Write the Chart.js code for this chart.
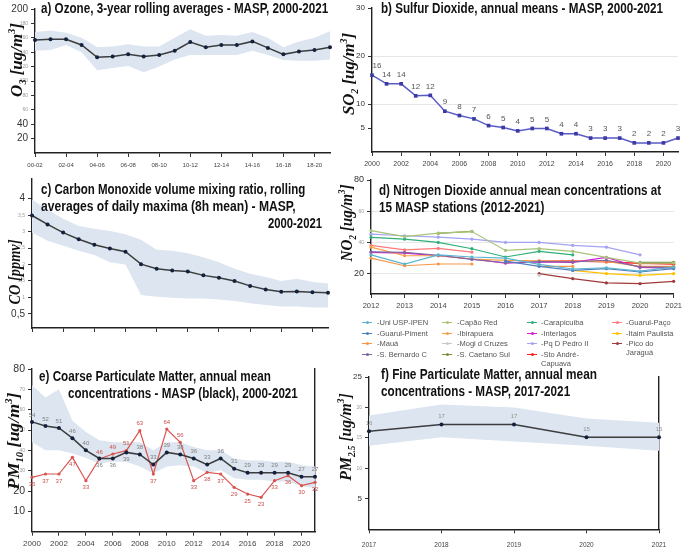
<!DOCTYPE html>
<html>
<head>
<meta charset="utf-8">
<script src="https://cdn.jsdelivr.net/npm/chart.js@4.4.1/dist/chart.umd.min.js"></script>
<style>
  html, body { margin: 0; padding: 0; background: #fff; }
  #page { position: relative; width: 685px; height: 548px; overflow: hidden; background: #fff; font-family: 'Liberation Sans', Arial, sans-serif; }
  #page canvas { position: absolute; }
  .ttl { position: absolute; font-weight: bold; font-size: 14px; line-height: 16px; white-space: nowrap; color: #111; transform-origin: 0 50%; z-index: 5; }
  .ax { position: absolute; font-family: 'Liberation Serif', serif; font-style: italic; font-weight: bold; font-size: 17px; line-height: 20px; white-space: nowrap; color: #111; z-index: 5; }
  .ax sub, .ax sup { font-size: 10px; line-height: 0; }
  .lg { position: absolute; font-size: 7.5px; color: #555; line-height: 9px; z-index: 5; }
  .lg .mk { position: absolute; left: 0; top: 4px; width: 10px; height: 1px; }
  .lg .dt { position: absolute; left: 3.5px; top: 2.5px; width: 3px; height: 3px; border-radius: 50%; }
  .lg .tx { position: absolute; top: 0; }
</style>
</head>
<body>
<div id="page">
  <canvas id="cA" width="340" height="175" style="left:0;top:0"></canvas>
  <canvas id="cB" width="345" height="175" style="left:340px;top:0"></canvas>
  <canvas id="cC" width="340" height="175" style="left:0;top:170px"></canvas>
  <canvas id="cD" width="345" height="140" style="left:340px;top:170px"></canvas>
  <canvas id="cE" width="340" height="203" style="left:0;top:345px"></canvas>
  <canvas id="cF" width="345" height="203" style="left:340px;top:345px"></canvas>

  <div class="ttl" data-w="287" style="left:41px;top:0px">a) Ozone, 3-year rolling averages - MASP, 2000-2021</div>
  <div class="ttl" data-w="282" style="left:381px;top:0px">b) Sulfur Dioxide, annual means - MASP, 2000-2021</div>
  <div class="ttl" data-w="264" style="left:41px;top:181px">c) Carbon Monoxide volume mixing ratio, rolling</div>
  <div class="ttl" data-w="255" style="left:41px;top:198px">averages of daily maxima (8h mean) - MASP,</div>
  <div class="ttl" data-w="54" style="left:268px;top:215px">2000-2021</div>
  <div class="ttl" data-w="282" style="left:379px;top:182px">d) Nitrogen Dioxide annual mean concentrations at</div>
  <div class="ttl" data-w="165" style="left:379px;top:199px">15 MASP stations (2012-2021)</div>
  <div class="ttl" data-w="232" style="left:39px;top:368px">e) Coarse Particulate Matter, annual mean</div>
  <div class="ttl" data-w="230" style="left:68px;top:385px">concentrations - MASP (black), 2000-2021</div>
  <div class="ttl" data-w="216" style="left:381px;top:366px">f) Fine Particulate Matter, annual mean</div>
  <div class="ttl" data-w="189" style="left:381px;top:383px">concentrations - MASP, 2017-2021</div>

  <div class="ax" data-w="74" style="left:17px;top:60px">O<sub>3</sub> [ug/m<sup>3</sup>]</div>
  <div class="ax" data-w="82" style="left:349px;top:74px">SO<sub>2</sub> [ug/m<sup>3</sup>]</div>
  <div class="ax" data-w="65" style="left:15px;top:272px">CO [ppmv]</div>
  <div class="ax" data-w="77" style="left:347px;top:223px">NO<sub>2</sub> [ug/m<sup>3</sup>]</div>
  <div class="ax" data-w="97" style="left:14px;top:441px">PM<sub>10</sub> [ug/m<sup>3</sup>]</div>
  <div class="ax" data-w="87" style="left:346px;top:437px">PM<sub>2.5</sub> [ug/m<sup>3</sup>]</div>
</div>
<script>
// ---- data ----
var rollingPeriods = ['00-02', '01-03', '02-04', '03-05', '04-06', '05-07', '06-08', '07-09', '08-10', '09-11',
                      '10-12', '11-13', '12-14', '13-15', '14-16', '15-17', '16-18', '17-19', '18-20', '19-21'];

var ozoneMean  = [157, 158, 158, 150, 133, 134, 137, 134, 136, 142, 154, 147, 150, 150, 155, 146, 137, 141, 143, 147];
var ozoneUpper = [168, 170, 167, 160, 147, 148, 151, 148, 148, 160, 172, 163, 164, 163, 168, 160, 147, 155, 160, 169];
var ozoneLower = [142, 143, 150, 140, 115, 118, 121, 112, 120, 130, 136, 136, 136, 136, 142, 136, 129, 128, 128, 130];

var years2000 = ['2000', '2001', '2002', '2003', '2004', '2005', '2006', '2007', '2008', '2009', '2010',
                 '2011', '2012', '2013', '2014', '2015', '2016', '2017', '2018', '2019', '2020', '2021'];

var so2Means  = [16, 14.2, 14.2, 11.7, 11.8, 8.5, 7.6, 6.9, 5.5, 5.1, 4.4, 4.9, 4.9, 3.8, 3.8, 2.9, 2.9, 2.9, 1.9, 1.9, 1.9, 2.9];
var so2Labels = ['16', '14', '14', '12', '12', '9', '8', '7', '6', '5', '4', '5', '5', '4', '4', '3', '3', '3', '2', '2', '2', '3'];

var coMean  = [3.49, 3.22, 2.97, 2.77, 2.60, 2.49, 2.39, 2.01, 1.87, 1.82, 1.79, 1.67, 1.60, 1.50, 1.35, 1.24, 1.17, 1.18, 1.16, 1.14];
var coUpper = [3.97, 3.67, 3.39, 3.17, 3.09, 3.02, 2.92, 2.75, 2.45, 2.42, 2.34, 2.22, 2.07, 1.87, 1.72, 1.62, 1.50, 1.57, 1.47, 1.42];
var coLower = [2.97, 2.72, 2.57, 2.42, 2.29, 2.07, 2.00, 1.07, 1.02, 0.99, 0.97, 0.97, 0.94, 0.89, 0.82, 0.77, 0.72, 0.72, 0.69, 0.69];

var years2012 = ['2012', '2013', '2014', '2015', '2016', '2017', '2018', '2019', '2020', '2021'];
var stationNames = ['-Uni USP-IPEN', '-Guarul-Piment', '-Mauá', '-S. Bernardo C',
                    '-Capão Red', '-Ibirapuera', '-Mogi d Cruzes', '-S. Caetano Sul',
                    '-Carapicuiba', '-Interlagos', '-Pq D Pedro II', '-Sto André-Capuava',
                    '-Guarul-Paço', '-Itaim Paulista', '-Pico do Jaraguá'];
var stationColors = ['#5ab4cf', '#4f7fc0', '#f79646', '#8064a2',
                     '#a8c47a', '#f7a043', '#c8c8c8', '#77933c',
                     '#2fb07a', '#d21fd2', '#a3a3f2', '#ff1f1f',
                     '#ff7a7a', '#ffc000', '#a33a3a'];
var no2UniUsp     = [32.1, 26.2, 32.1, 30.7, 30.0, 26.0, 23.0, 23.8, 21.7, 24.2];
var no2GuarulPim  = [null, null, null, null, 28.0, 24.7, 22.1, 23.2, 21.1, 23.2];
var no2Maua       = [30.0, 25.1, 26.2, 26.2, null, 24.7, 24.7, null, null, null];
var no2SBernardo  = [34.0, 33.6, 31.8, 29.2, 27.0, 27.8, 27.6, 28.6, 24.4, 24.0];
var no2CapaoRed   = [47.6, 43.8, 46.0, 47.0, 34.9, 36.0, 34.3, 30.4, 26.8, 26.8];
var no2Ibirapuera = [37.0, 31.5, 31.5, 29.4, 28.5, 28.3, 27.9, 27.9, 24.7, 24.7];
var no2Mogi       = [null, null, null, null, null, 19.0, null, null, null, null];
var no2SCaetano   = [null, null, 45.8, 47.1, null, null, null, null, 27.2, 27.3];
var no2Carapic    = [43.2, 42.1, 40.0, 36.0, 30.7, 34.3, 32.1, null, null, null];
var no2Interlagos = [33.6, 33.2, 31.5, 29.4, 26.8, 27.5, 27.3, 30.4, 24.0, 23.6];
var no2PqDPedro   = [45.3, 44.3, 43.4, 42.1, 40.0, 40.0, 38.1, 37.0, 32.1, null];
var no2StoAndre   = [null, null, null, null, null, 27.8, 28.0, 27.5, 26.8, 26.1];
var no2GuarulPaco = [38.1, 35.3, 36.2, 33.8, null, 28.2, 28.2, 27.8, 26.5, 26.5];
var no2Itaim      = [null, null, null, null, null, null, 22.1, 20.0, 18.9, 20.0];
var no2Pico       = [null, null, null, null, null, 20.0, 16.8, 14.1, 13.6, 15.1];
var no2Series = [no2UniUsp, no2GuarulPim, no2Maua, no2SBernardo, no2CapaoRed, no2Ibirapuera, no2Mogi, no2SCaetano,
                 no2Carapic, no2Interlagos, no2PqDPedro, no2StoAndre, no2GuarulPaco, no2Itaim, no2Pico];

var pm10Masp  = [54, 52, 51, 46, 40, 36, 36, 39, 38, 33, 39, 38, 36, 33, 36, 31, 29, 29, 29, 29, 27, 27];
var pm10Red   = [35, 37, 37, 47, 33, 46, 49, 51, 63, 37, 64, 56, 33, 38, 37, 29, 25, 23, 33, 36, 30, 32];
var pm10Upper = [72, 66, 70, 54.5, 49, 45, 44, 44, 44, 40, 44, 44, 41.6, 40, 40, 36, 35, 35, 34.4, 34.4, 32.7, 32];
var pm10Lower = [44, 40, 40, 38.4, 36.3, 33.5, 34.4, 34.4, 32, 28.7, 32, 32.7, 32, 28.7, 30.3, 26.3, 25.5, 25.5, 24.7, 24.7, 22.3, 21.5];

var years2017  = ['2017', '2018', '2019', '2020', '2021'];
var pm25Mean   = [16.1, 17.2, 17.2, 15.1, 15.1];
var pm25Labels = ['16', '17', '17', '15', '15'];
var pm25Upper  = [18.7, 20.5, 20.0, 18.2, 17.5];
var pm25Lower  = [13.7, 15.1, 14.4, 13.7, 12.9];

var ozoneTicks = [20, 40, 60, 80, 100, 120, 140, 160, 180, 200];
var so2Ticks   = [5, 10, 20, 30];
var coTicks    = [0.5, 1, 1.5, 2, 2.5, 3, 3.5, 4];
var no2Ticks   = [20, 40, 60, 80];
var pm10Ticks  = [10, 20, 30, 40, 50, 60, 70, 80];
var pm25Ticks  = [5, 10, 15, 20, 25];

// ---- helpers ----
Chart.defaults.font.family = "'Liberation Sans', Arial, sans-serif";
var BAND = '#dce5f0';
var LINE = '#3d3d3d';
var DOT = '#14213d';

// draws the little number labels next to points
var valueLabels = {
    id: 'valueLabels',
    afterDatasetsDraw: function (chart) {
        var ctx = chart.ctx;
        chart.data.datasets.forEach(function (ds, i) {
            if (!ds.valueLabels) {
                return;
            }
            var meta = chart.getDatasetMeta(i);
            ctx.save();
            ctx.font = ds.labelFont;
            ctx.fillStyle = ds.labelColor;
            ctx.textAlign = 'center';
            meta.data.forEach(function (pt, j) {
                var above = ds.labelsAbove ? ds.labelsAbove.indexOf(j) >= 0 : true;
                var dx = j === 0 && ds.nudgeFirst ? ds.nudgeFirst : 0;
                ctx.textBaseline = above ? 'bottom' : 'top';
                ctx.fillText(ds.valueLabels[j], pt.x + dx, pt.y + (above ? -ds.labelGap : ds.labelGap));
            });
            ctx.restore();
        });
    }
};

function fixWidth(w) {
    return function (scale) { scale.width = w; };
}

function fixHeight(h) {
    return function (scale) { scale.height = h; };
}

function tickValue(c) {
    return c && c.tick ? c.tick.value : null;
}

function yAxis(min, max, width, values, big, bigSize, gridAt, fmt) {
    return {
        min: min,
        max: max,
        afterFit: fixWidth(width),
        afterBuildTicks: function (scale) {
            scale.ticks = values.map(function (v) { return {value: v}; });
        },
        border: {color: '#222', width: 1.4},
        grid: {
            drawOnChartArea: !!gridAt,
            color: function (c) {
                return gridAt && gridAt.indexOf(tickValue(c)) >= 0 ? '#e6e6e6' : 'rgba(0,0,0,0)';
            },
            tickColor: '#333',
            tickLength: 4
        },
        ticks: {
            padding: 3,
            font: function (c) {
                return {size: big.indexOf(tickValue(c)) >= 0 ? bigSize : 5};
            },
            color: function (c) {
                return big.indexOf(tickValue(c)) >= 0 ? '#333' : '#999';
            },
            callback: fmt || function (v) { return v; }
        }
    };
}

function xAxis(height, every, size, showLabels, pad) {
    return {
        type: 'category',
        offset: false,
        afterFit: fixHeight(height),
        border: {color: '#222', width: 1.4},
        grid: {
            drawOnChartArea: false,
            tickLength: 4,
            tickColor: function (c) { return (c.index || 0) % every === 0 ? '#333' : 'rgba(0,0,0,0)'; }
        },
        ticks: {
            autoSkip: false,
            maxRotation: 0,
            padding: pad || 2,
            font: {size: size},
            color: '#444',
            callback: function (v, i) {
                return showLabels && i % every === 0 ? this.getLabelForValue(v) : '';
            }
        }
    };
}

function rightEdge(min, max) {
    return {
        position: 'right',
        min: min,
        max: max,
        afterFit: fixWidth(0),
        border: {color: '#222', width: 1.4},
        grid: {display: false, drawTicks: false},
        ticks: {display: false}
    };
}

function bandSets(upper, lower) {
    return [
        {data: upper, fill: '+1', backgroundColor: BAND, borderWidth: 0, pointRadius: 0, order: 5},
        {data: lower, fill: false, borderWidth: 0, pointRadius: 0, order: 6}
    ];
}

function meanSet(values) {
    return {data: values, borderColor: LINE, borderWidth: 1.5, pointRadius: 2,
            pointBackgroundColor: DOT, pointBorderWidth: 0, order: 0};
}

function draw(id, labels, datasets, scales, padding) {
    return new Chart(document.getElementById(id), {
        type: 'line',
        data: {labels: labels, datasets: datasets},
        options: {
            responsive: false,
            animation: false,
            devicePixelRatio: 1,
            layout: {padding: padding},
            plugins: {legend: {display: false}, tooltip: {enabled: false}},
            elements: {line: {tension: 0}},
            scales: scales
        },
        plugins: [valueLabels]
    });
}

// squeeze titles to the widths they have in the figure
Array.prototype.forEach.call(document.querySelectorAll('.ttl'), function (el) {
    var s = parseFloat(el.getAttribute('data-w')) / el.offsetWidth;
    el.style.transform = 'scaleX(' + s + ')';
});
Array.prototype.forEach.call(document.querySelectorAll('.ax'), function (el) {
    var s = parseFloat(el.getAttribute('data-w')) / el.offsetWidth;
    el.style.transform = 'translate(-50%,-50%) rotate(-90deg) scaleX(' + s + ')';
});

// ---- a) ozone ----
draw('cA', rollingPeriods, bandSets(ozoneUpper, ozoneLower).concat([meanSet(ozoneMean)]), {
    x: xAxis(22, 2, 6, true, 5),
    y: yAxis(0, 200, 35, ozoneTicks, [200, 40, 20], 10)
}, {top: 5, right: 10, left: 0, bottom: 0});

// ---- b) sulfur dioxide ----
draw('cB', years2000, [{
    data: so2Means, borderColor: '#5a5ac8', borderWidth: 1.5, pointStyle: 'rect', pointRadius: 2.6,
    pointBackgroundColor: '#3b3ba6', pointBorderWidth: 0,
    valueLabels: so2Labels, labelFont: '8px "Liberation Sans"', labelColor: '#555', labelGap: 5, nudgeFirst: 5
}], {
    x: xAxis(23, 2, 7, true, 4),
    y: yAxis(0, 30, 32, so2Ticks, so2Ticks, 8, [10, 20])
}, {top: 8, right: 7, left: 0, bottom: 0});

// ---- c) carbon monoxide ----
draw('cC', rollingPeriods, bandSets(coUpper, coLower).concat([meanSet(coMean)]), {
    x: xAxis(17, 2, 6, false),
    y: yAxis(0.07, 4.6, 32, coTicks, [0.5, 4], 10, null, function (v) {
        return String(v).replace('.', ',');
    })
}, {top: 7, right: 12, left: 0, bottom: 0});

// ---- d) nitrogen dioxide ----
draw('cD', years2012, no2Series.map(function (s, i) {
    return {data: s, borderColor: stationColors[i], borderWidth: 1.2, pointRadius: 1.6,
            pointBackgroundColor: stationColors[i], pointBorderWidth: 0, spanGaps: false};
}), {
    x: xAxis(16, 1, 7.5, true, 3),
    y: yAxis(7, 80, 31, no2Ticks, [20, 80], 9, [20, 40, 60])
}, {top: 10, right: 6, left: 0, bottom: 0});

// legend of panel d, laid out column by column like the original
(function () {
    var page = document.getElementById('page');
    var colX = [362, 442, 527, 612];
    var rowY = [318, 329, 339, 350];
    stationNames.forEach(function (name, i) {
        var col = Math.floor(i / 4), row = i % 4;
        var el = document.createElement('div');
        el.className = 'lg';
        el.style.left = colX[col] + 'px';
        el.style.top = rowY[row] + 'px';
        el.innerHTML = '<span class="mk" style="background:' + stationColors[i] + '"></span>' +
            '<span class="dt" style="background:' + stationColors[i] + '"></span>' +
            '<span class="tx" style="left:' + (col < 2 ? 15 : 14) + 'px;width:' + (col < 2 ? 70 : 52) + 'px;' +
            'text-align:left">' + name + '</span>';
        page.appendChild(el);
    });
})();

// ---- e) coarse particulate matter ----
draw('cE', years2000, bandSets(pm10Upper, pm10Lower).concat([
    {data: pm10Red, yAxisID: 'y1', borderColor: '#d9534f', borderWidth: 1.2, pointRadius: 1.6,
     pointBackgroundColor: '#d9534f', pointBorderWidth: 0, order: 1,
     valueLabels: pm10Red.map(String), labelFont: '6px "Liberation Sans"', labelColor: '#c9504c',
     labelGap: 4, labelsAbove: [5, 6, 7, 8, 10, 11]},
    {data: pm10Masp, borderColor: LINE, borderWidth: 1.5, pointRadius: 2,
     pointBackgroundColor: DOT, pointBorderWidth: 0, order: 0,
     valueLabels: pm10Masp.map(String), labelFont: '6px "Liberation Sans"', labelColor: '#808080',
     labelGap: 4, labelsAbove: [0, 1, 2, 3, 4, 8, 9, 10, 11, 12, 13, 14, 15, 16, 17, 18, 19, 20, 21]}
]), {
    x: xAxis(16.3, 2, 8, true, 3.5),
    y: yAxis(0, 80, 32, pm10Ticks, [10, 20, 80], 10.5),
    y1: rightEdge(2.4, 100)
}, {top: 24, right: 25, left: 0, bottom: 0});

// ---- f) fine particulate matter ----
draw('cF', years2017, bandSets(pm25Upper, pm25Lower).concat([
    {data: pm25Mean, borderColor: LINE, borderWidth: 1.5, pointRadius: 2,
     pointBackgroundColor: DOT, pointBorderWidth: 0, order: 0,
     valueLabels: pm25Labels, labelFont: '6px "Liberation Sans"', labelColor: '#909090', labelGap: 5}
]), {
    x: xAxis(18.7, 1, 6.5, true, 8),
    y: yAxis(0, 25, 29, pm25Ticks, [5, 25], 8),
    y1: rightEdge(0, 1)
}, {top: 32, right: 26, left: 0, bottom: 0});
</script>
</body>
</html>
